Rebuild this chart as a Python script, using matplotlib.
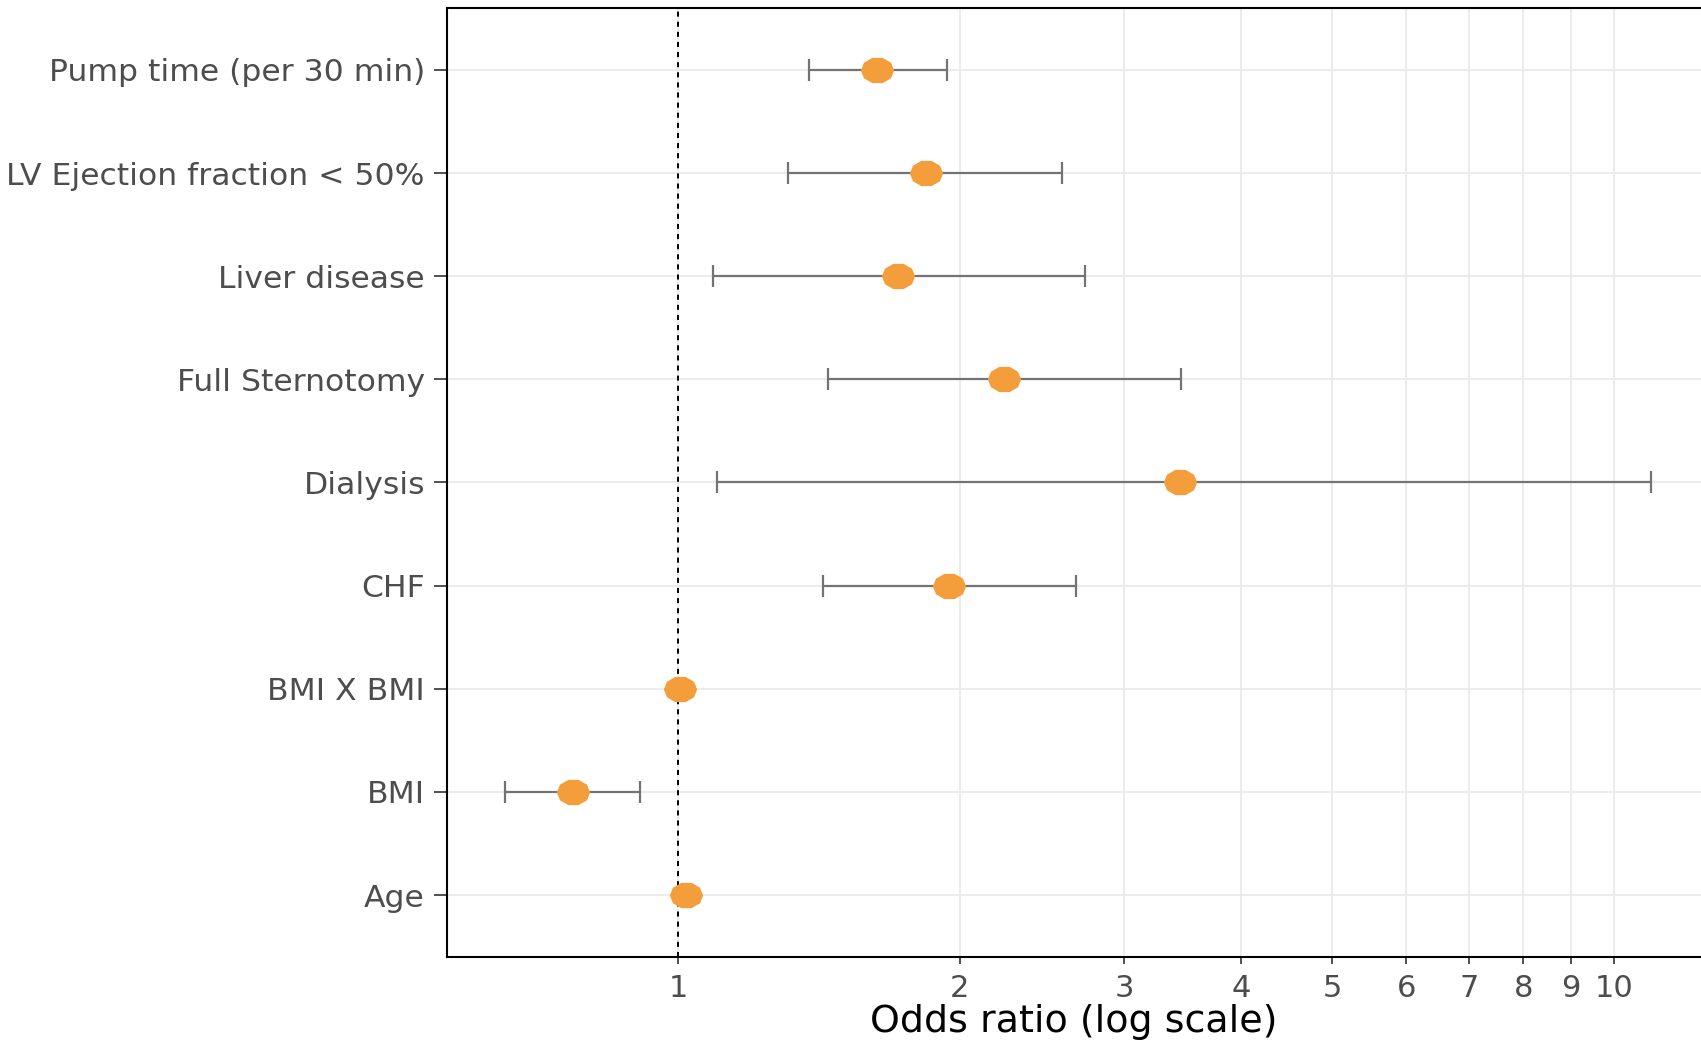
import numpy as np
import matplotlib
matplotlib.use('Agg')
import matplotlib.pyplot as plt
from matplotlib.path import Path
from matplotlib.ticker import FixedLocator, FixedFormatter, NullLocator

# ---- data ----
labels = ["Age", "BMI", "BMI X BMI", "CHF", "Dialysis", "Full Sternotomy",
          "Liver disease", "LV Ejection fraction < 50%", "Pump time (per 30 min)"]
odds = [1.02, 0.772, 1.005, 1.95, 3.44, 2.23, 1.72, 1.84, 1.63]
ci_low = [1.012, 0.654, 0.998, 1.43, 1.10, 1.445, 1.09, 1.31, 1.38]
ci_high = [1.028, 0.911, 1.012, 2.66, 10.95, 3.45, 2.72, 2.57, 1.94]
x_ticks = [1, 2, 3, 4, 5, 6, 7, 8, 9, 10]
x_tick_labels = ["1", "2", "3", "4", "5", "6", "7", "8", "9", "10"]
x_title = "Odds ratio (log scale)"

plt.rcParams['font.family'] = ['DejaVu Sans']

fig = plt.figure(figsize=(17.01, 10.40), dpi=100)
ax = fig.add_axes([447 / 1701, 1 - 957 / 1040, 1 - 447 / 1701, (957 - 8) / 1040])

ax.set_xscale('log')
ax.set_xlim(0.5666, 12.39)
ypos = np.arange(len(labels))
ax.set_ylim(-0.6, len(labels) - 1 + 0.6)

# grid
for xt in x_ticks:
    ax.axvline(xt, color='#EBEBEB', lw=1.3, zorder=0)
for y in ypos:
    ax.axhline(y, color='#EBEBEB', lw=1.3, zorder=0)

# reference line
ax.axvline(1, color='black', lw=1.4, linestyle=(0, (2.6, 2.6)), zorder=1)

# error bars
odds_a = np.array(odds)
xerr = np.vstack([odds_a - np.array(ci_low), np.array(ci_high) - odds_a])
ax.errorbar(odds, ypos, xerr=xerr, fmt='none', ecolor='#737373',
            elinewidth=1.6, capsize=7.6, capthick=1.6, zorder=2)

# stretched polygon marker (flat top/bottom, pointed sides)
ang = np.deg2rad(36 * np.arange(10))
verts = np.column_stack([1.255 * np.cos(ang), np.sin(ang)])
verts = np.vstack([verts, verts[:1]])
codes = [Path.MOVETO] + [Path.LINETO] * 9 + [Path.CLOSEPOLY]
poly_marker = Path(verts, codes)
ax.plot(odds, ypos, linestyle='none', marker=poly_marker, markersize=24,
        color='#F49D3B', markeredgewidth=0, zorder=3)

# axes styling
ax.xaxis.set_major_locator(FixedLocator(x_ticks))
ax.xaxis.set_major_formatter(FixedFormatter(x_tick_labels))
ax.xaxis.set_minor_locator(NullLocator())
ax.set_yticks(ypos)
ax.set_yticklabels(labels)

ax.tick_params(axis='y', length=9.4, width=1.2, color='#333333', pad=6.5,
               labelsize=22.6, labelcolor='#4D4D4D')
ax.tick_params(axis='x', length=5, width=1.2, color='#333333', pad=7,
               labelsize=22, labelcolor='#4D4D4D')
ax.set_xlabel(x_title, fontsize=27.4, color='black', labelpad=1)

for side in ['left', 'bottom', 'top']:
    ax.spines[side].set_color('black')
    ax.spines[side].set_linewidth(1.5)
ax.spines['right'].set_visible(False)

fig.savefig('out.png', dpi=100)
